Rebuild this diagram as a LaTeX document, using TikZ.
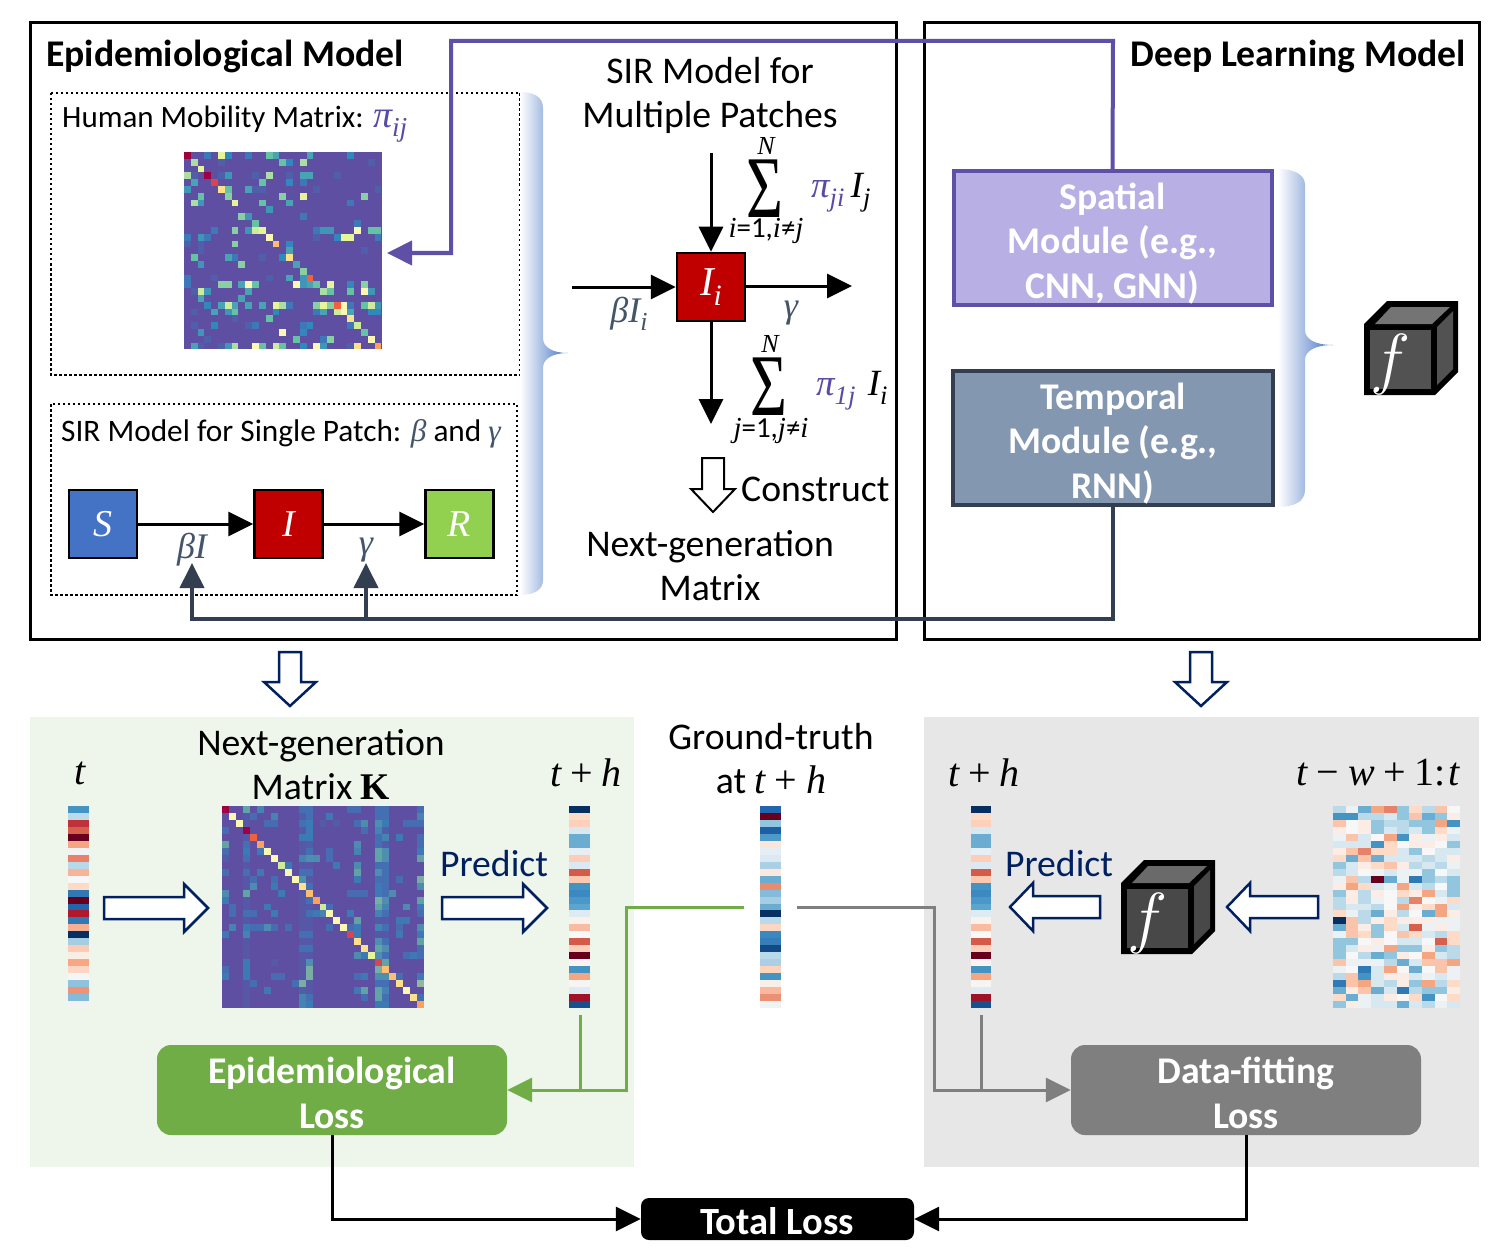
\RequirePackage{fix-cm}
\documentclass[tikz,border=0pt]{standalone}
\usepackage{graphicx}
\usepackage{fontspec}
\setmainfont{Carlito}
\newfontfamily\mathfnt{Liberation Serif}
\newcommand{\mi}[1]{{\mathfnt\itshape #1}}
\newcommand{\sbs}[1]{\raisebox{-.24em}{\scalebox{.72}{\mathfnt\itshape #1}}}
\newcommand{\ops}[1]{\hspace{.22em}{\mathfnt #1}\hspace{.22em}}
\usetikzlibrary{arrows.meta,shadings}
% colours
\definecolor{navy}{HTML}{002060}
\definecolor{purp}{HTML}{5F4FA6}
\definecolor{mathpurp}{HTML}{5B4AA5}
\definecolor{slate}{HTML}{333F50}
\definecolor{mathslate}{HTML}{44546A}
\definecolor{lossgreen}{HTML}{70AD47}
\definecolor{lossgray}{HTML}{7F7F7F}
\definecolor{panelgreen}{HTML}{EEF5EA}
\definecolor{panelgray}{HTML}{E7E7E7}
\definecolor{braceblue}{HTML}{4472C4}
\definecolor{boxred}{HTML}{C00000}
\definecolor{boxgreen}{HTML}{92D050}
\definecolor{spatialfill}{HTML}{B8B0E4}
\definecolor{temporalfill}{HTML}{8497B0}
\definecolor{cubeA}{HTML}{525252}
\definecolor{cubeAtop}{HTML}{747474}
\definecolor{cubeB}{HTML}{484848}
\definecolor{cubeBtop}{HTML}{6A6A6A}
\definecolor{hmbg}{HTML}{5E4FA2}
\definecolor{hmp}{HTML}{4F5FAA}
\definecolor{hmb}{HTML}{3F78B8}
\definecolor{hmc}{HTML}{3288BD}
\definecolor{hmd}{HTML}{3F96B7}
\definecolor{hme}{HTML}{4AA3B5}
\definecolor{hmf}{HTML}{66C2A5}
\definecolor{hmg}{HTML}{88CFA4}
\definecolor{hmh}{HTML}{ABDDA4}
\definecolor{hmi}{HTML}{CFEB9C}
\definecolor{hmj}{HTML}{E6F598}
\definecolor{hmk}{HTML}{FBF8B4}
\definecolor{hml}{HTML}{FEE08B}
\definecolor{hmm}{HTML}{FDBE6F}
\definecolor{hmn}{HTML}{FDA05B}
\definecolor{hmo}{HTML}{F0613F}
\definecolor{hmq}{HTML}{D9454F}
\definecolor{hmr}{HTML}{9E0142}
% red-blue palette
\definecolor{rbA}{HTML}{053061}
\definecolor{rbB}{HTML}{2F79B5}
\definecolor{rbC}{HTML}{4393C3}
\definecolor{rbD}{HTML}{6BACD1}
\definecolor{rbE}{HTML}{92C5DE}
\definecolor{rbF}{HTML}{BAD9E9}
\definecolor{rbG}{HTML}{D8E8F1}
\definecolor{rbH}{HTML}{ECF1F4}
\definecolor{rbI}{HTML}{F7F7F7}
\definecolor{rbJ}{HTML}{FBEDE5}
\definecolor{rbK}{HTML}{FDDBC7}
\definecolor{rbL}{HTML}{F9C4A9}
\definecolor{rbM}{HTML}{F4A582}
\definecolor{rbN}{HTML}{E58268}
\definecolor{rbO}{HTML}{D6604D}
\definecolor{rbP}{HTML}{67001F}
\tikzset{
  panel/.style={draw=black,line width=3pt,fill=none},
  dotbox/.style={draw=black,line width=2.5pt,dash pattern=on 2.5pt off 2.5pt},
  flowbox/.style={draw=black,line width=2.5pt,minimum width=68pt,minimum height=68pt,inner sep=0pt,text=white,font=\fontsize{38}{40}\selectfont},
  modbox/.style={line width=4pt,minimum width=318pt,minimum height=134pt,inner sep=0pt},
  modtext/.style={inner sep=0pt,text=white,align=center,font=\fontsize{37.7}{44.5}\selectfont\bfseries},
  lossbox/.style={rounded corners=14pt,minimum width=350pt,minimum height=90pt,inner sep=0pt},
  losstext/.style={inner sep=0pt,text=white,align=center,font=\fontsize{37.7}{45}\selectfont\bfseries},
  lbl/.style={inner sep=0pt,align=center,font=\fontsize{#1}{44}\selectfont},
  blbl/.style={inner sep=0pt,align=center,font=\fontsize{#1}{44.5}\selectfont\bfseries},
  blockarrow/.style={draw=navy,fill=white,line width=2.5pt,miter limit=10},
  bigtip/.style={-{Triangle[length=25pt,width=24pt]}},
  flow/.style={draw=black,line width=3pt,bigtip},
  purpline/.style={draw=purp,line width=4pt,-{Triangle[length=25pt,width=24pt,fill=purp]},line join=miter},
  slateline/.style={draw=slate,line width=4pt,line join=miter},
  greenline/.style={draw=lossgreen,line width=3pt},
  grayline/.style={draw=lossgray,line width=3pt},
  total/.style={draw=black,line width=3pt},
}
% horizontal block arrow: tail x, tip x, y, head base x
\newcommand{\hblock}[4]{\draw[blockarrow] (#1,#3-11) -- (#4,#3-11) -- (#4,#3-24) -- (#2,#3) -- (#4,#3+24) -- (#4,#3+11) -- (#1,#3+11) -- cycle;}
% vertical block arrow: x, tail y, tip y, head base y
\newcommand{\vblock}[4]{\draw[blockarrow] (#1-11,#2) -- (#1-11,#4) -- (#1-26,#4) -- (#1,#3) -- (#1+26,#4) -- (#1+11,#4) -- (#1+11,#2) -- cycle;}
% cube: x, y, face colour, top colour, name
\newcommand{\fcube}[5]{%
  \fill[black] (#1,#2+23) -- (#1+23,#2) -- (#1+94,#2) -- (#1+94,#2+71) -- (#1+71,#2+94) -- (#1,#2+94) -- cycle;
  \fill[#3] (#1+6,#2+29) rectangle (#1+67,#2+88);
  \fill[#4] (#1+11,#2+23) -- (#1+27,#2+6) -- (#1+86,#2+6) -- (#1+68,#2+23) -- cycle;
  \fill[#3] (#1+73,#2+26) -- (#1+89,#2+10) -- (#1+89,#2+68) -- (#1+73,#2+84) -- cycle;
  \node[text=white,inner sep=0pt,font=\fontsize{68}{68}\selectfont] (#5) at (#1+27,#2+63) {$f$};
}
% sparse heat map: x0,y0,cell,data
\newcommand{\heat}[4]{%
  \foreach \r/\cs in {#4} {%
    \foreach \c/\k in \cs {%
      \fill[hm\k] ({#1+\c*#3},{#2+\r*#3}) rectangle ({#1+(\c+1)*#3},{#2+(\r+1)*#3});
    }%
  }%
}
% stripe: x0,x1,list of 29 hex colours (a macro, or a list in double braces)
\newcommand{\stripe}[3]{%
  \foreach \hc [count=\i from 0] in #3 {%
    \edef\tmpdef{\noexpand\definecolor{cc}{HTML}{\hc}}\tmpdef
    \fill[cc] (#1,{806+\i*6.966}) rectangle (#2,{806+(\i+1)*6.966});
  }%
}
\newcommand{\predlist}{053061,FDDBC7,FDD0BC,D8E8F1,6BACD1,6BACD1,E8EFF4,FDCDB8,DCE8F2,D55A4A,FBC8B0,4393C3,3C88C0,4A97C9,5CA5CE,DEEBF3,F8F1EC,F9BBA1,F8F8F8,D55A4A,FCCFBA,67001F,F9F4F2,4393C3,F4A582,F7F5F3,DEEBF3,A11228,174F8F}
\newcommand{\bigsum}{\scalebox{.72}[1]{\fontsize{88}{88}\selectfont\mathfnt Σ}}
\begin{document}
\begin{tikzpicture}[x=1pt,y=-1pt]
\useasboundingbox (0,0) rectangle (1510,1260);
% panels
\fill[panelgreen] (30,717) rectangle (634,1167);
\fill[panelgray] (924,717) rectangle (1479,1167);
\draw[panel] (30,23) rectangle (896,639);
\draw[panel] (924,23) rectangle (1479,639);
\draw[dotbox] (51,93) rectangle (520,375);
\draw[dotbox] (51,404) rectangle (517,595);
% titles
\node[blbl=37.7,anchor=west] (epititle) at (46,56) {Epidemiological Model};
\node[blbl=37.7,anchor=east] (dltitle) at (1466,56) {Deep Learning Model};
\node[lbl=31,anchor=west] (mobtitle) at (62,124.5) {Human Mobility Matrix: {\fontsize{38}{40}\selectfont\textcolor{mathpurp}{\mi{π}\sbs{ij}}}};
\node[lbl=31.3,anchor=west] (sirtitle) at (61,434) {SIR Model for Single Patch: \textcolor{mathslate}{\mi{β}} and \textcolor{mathslate}{\mi{γ}}};
\node[lbl=37.7] (multititle) at (710,95) {SIR Model for\\Multiple Patches};
% mobility matrix
\fill[hmbg] (184,152) rectangle (382,349);
\heat{184}{152}{6.81}{%
0/{0/r,3/b,5/j,6/c,9/b,12/f,13/e,18/e,24/c},
1/{1/h,5/p,14/f,15/c,17/h,27/p},
2/{2/j},
3/{0/h,1/p,3/r,5/p,6/d,10/p,12/h,15/p,17/e,18/e,22/p},
4/{1/e,4/q,11/f,15/c,17/b},
5/{0/d,5/l,6/f,9/e,10/p,11/p,19/p,28/p},
6/{2/f,6/g,14/g,17/j,26/g},
7/{1/h,2/d,7/j,11/f,15/e,24/b},
8/{12/d},
9/{8/g,9/d,17/b},
10/{10/f,25/b},
11/{4/b,7/g,9/d,10/i,11/j,19/b,20/d,21/d,25/k,27/f,28/f},
12/{0/b,2/d,3/b,12/k,19/p,22/c,23/j,24/j,28/b},
13/{0/p,2/p,7/g,13/m,15/c},
14/{2/p,15/e,26/p},
15/{1/f,6/e,7/b,11/p,14/c,15/l},
16/{2/d,8/g,16/e},
17/{17/g},
18/{0/b,4/p,12/p,15/e,17/d,18/o},
19/{0/b,5/g,6/g,8/e,9/k,10/f,16/k,17/d,18/e,19/f,21/j,24/c,26/g},
20/{1/p,2/i,3/d,9/e,20/h,21/f,24/f,26/k,27/d},
21/{2/e,8/e},
22/{3/c,5/e,6/i,7/e,9/e,11/e,13/j,14/h,15/b,19/g,20/j,21/g,22/o,23/k,24/b,26/f,27/i,28/d},
23/{1/p,4/e,6/d,7/f,13/c,19/b,20/e,22/i,23/k,24/e,27/c,28/c},
24/{7/p,12/f,24/l},
25/{1/p,4/c,9/p,10/b,17/b,18/c,24/b,25/i},
26/{2/d,14/k,17/c,26/f},
27/{3/p,16/f,20/b,21/g,27/k},
28/{1/e,2/p,5/p,6/d,7/h,10/k,11/f,13/i,14/f,17/c,19/k,20/d,24/p,25/l,28/n}}
\coordinate (mobtip) at (387,253);
% brace left
\shade[left color=white,right color=braceblue]
  (520,92) .. controls (534,92) and (543,97) .. (543,108) -- (543,338) .. controls (543,347) and (552,353) .. (568,353) .. controls (552,353) and (543,359) .. (543,368) -- (543,580) .. controls (543,590) and (534,595) .. (520,595) -- cycle;
% brace right
\shade[left color=white,right color=braceblue]
  (1278,169) .. controls (1295,169) and (1305,175) .. (1305,185) -- (1305,330) .. controls (1305,339) and (1315,345) .. (1333,345) .. controls (1315,345) and (1305,351) .. (1305,360) -- (1305,490) .. controls (1305,501) and (1295,507) .. (1278,507) -- cycle;
% SIR flow
\node[flowbox,fill=braceblue] (S) at (103,524) {\mi{S}};
\node[flowbox,fill=boxred] (I) at (288.5,524) {\mi{I}};
\node[flowbox,fill=boxgreen] (R) at (459.5,524) {\mi{R}};
\draw[flow] (S) -- (I);
\draw[flow] (I) -- (R);
\node[lbl=36,text=mathslate] (betaI) at (192,550) {\mi{βI}};
\node[lbl=36,text=mathslate] (gam) at (366,550) {\mi{γ}};
% patch flow
\node[flowbox,fill=boxred,font=\fontsize{41}{42}\selectfont] (Ii) at (711,287) {\mi{I}\sbs{i}};
\coordinate (ctop) at (711,153);
\coordinate (cleft) at (572,287);
\coordinate (cright) at (852,286);
\coordinate (cbot) at (711,424);
\draw[flow] (ctop) -- (Ii.north);
\draw[flow] (cleft) -- (Ii.west);
\draw[flow] (Ii.east |- cright) -- (cright);
\draw[flow] (Ii.south) -- (cbot);
\node[lbl=36,text=mathslate] (betaIi) at (629,314) {\mi{βI}\sbs{i}};
\node[lbl=36,text=mathslate] (gamma2) at (791,313) {\mi{γ}};
\node[lbl=26] (n1) at (766,146) {\mi{N}};
\node[inner sep=0pt] (sum1) at (765,189) {\bigsum};
\node[lbl=29] (sub1) at (766,231) {\mi{i}=1,\mi{i}≠\mi{j}};
\node[lbl=37,anchor=west] (pi1) at (811,193) {\textcolor{mathpurp}{\mi{π}\sbs{ji}}\,\mi{I}\sbs{j}};
\node[lbl=26] (n2) at (770,344) {\mi{N}};
\node[inner sep=0pt] (sum2) at (769,387) {\bigsum};
\node[lbl=29] (sub2) at (771,431) {\mi{j}=1,\mi{j}≠\mi{i}};
\node[lbl=37,anchor=west] (pi2) at (816,391) {\textcolor{mathpurp}{\mi{π}\sbs{1j}}\,\,\mi{I}\sbs{i}};
% construct
\draw[draw=black,fill=white,line width=2pt] (702,458) -- (724,458) -- (724,489) -- (735,489) -- (713,512) -- (691,489) -- (702,489) -- cycle;
\node[lbl=37.7,anchor=west] (construct) at (741,489) {Construct};
\node[lbl=37.7] (nextgen1) at (710,566) {Next-generation\\Matrix};
% modules
\node[modbox,draw=purp,fill=spatialfill] (spatial) at (1112.5,238) {};
\node[modbox,draw=slate,fill=temporalfill,minimum width=320pt] (temporal) at (1113,438) {};
\node[modtext] (spatialtext) at (1112.5,243.5) {Spatial\\Module (e.g.,\\CNN, GNN)};
\node[modtext] (temporaltext) at (1113,443.5) {Temporal\\Module (e.g.,\\RNN)};
\fcube{1364}{301}{cubeA}{cubeAtop}{f1}
% cross connectors
\coordinate (pa) at (1113,41);
\coordinate (pb) at (451,41);
\coordinate (pc) at (451,253);
\draw[purpline] (spatial.north) -- (pa) -- (pb) -- (pc) -- (mobtip);
\coordinate (sa) at (1113,619);
\coordinate (sb) at (192,619);
\coordinate (sc) at (192,563);
\coordinate (sd) at (366,619);
\coordinate (se) at (366,563);
\draw[slateline,-{Triangle[length=25pt,width=24pt]}] (temporal.south) -- (sa) -- (sb) -- (sc);
\draw[slateline,-{Triangle[length=25pt,width=24pt]}] (sd) -- (se);
% down block arrows
\vblock{290}{652}{706}{682}
\vblock{1201}{652}{706}{682}
% lower labels
\node[lbl=37.7] (kt) at (321,765) {Next-generation\\Matrix {\mathfnt\bfseries K}};
\node[lbl=37.7] (gtt) at (771,759) {Ground-truth\\at {\fontsize{40}{40}\selectfont\mi{t}\ops{+}\mi{h}}};
\node[lbl=40] (lt) at (80,773) {\mi{t}};
\node[lbl=40] (lth) at (586,773) {\mi{t}\ops{+}\mi{h}};
\node[lbl=40] (rth) at (984,773) {\mi{t}\ops{+}\mi{h}};
\node[lbl=40] (rw) at (1378,773) {\mi{t}\ops{−}\mi{w}\ops{+}{\mathfnt 1:}\hspace{.05em}\mi{t}};
\node[lbl=37.7,text=navy] (pred1) at (494,864) {Predict};
\node[lbl=37.7,text=navy] (pred2) at (1059,864) {Predict};
% stripes
\stripe{68}{89}{{4393C3,BBDAEA,C0323A,D6604D,67001F,F4A582,F0F2F4,E8806A,B9D8E9,F7B498,F7F7F7,FDDBC7,2F79B5,67001F,2166AC,B2182B,2F79B5,F6AF92,053061,A6CEE3,FDCBB5,F9EDE4,F7A784,FDD7C3,F5F5F5,8FC2DD,EF9276,85BBDA,F2F2F2}}
\stripe{569}{590}{\predlist}
\stripe{760}{781}{{2166AC,67001F,92C5DE,1E5FA4,4D9AC8,FBE6DC,E6EEF5,DCE8F2,ABD0E6,FBE9E0,6BACD1,E98B6F,85BBDA,A6CEE3,6BACD1,053061,BAD9E9,FDD7C3,3B88C0,347FB9,134A85,BAD9E9,ABD0E6,FDD3BC,4393C3,F9EFE9,F8B99E,EB9072,EEF3F6}}
\stripe{971}{991}{\predlist}
% K matrix
\fill[hmbg] (222,806) rectangle (424,1008);
\foreach \c in {3,11,12,22,23} {\fill[hmp!55!hmbg] ({222+\c*6.966},806) rectangle ({222+(\c+1)*6.966},1008);}
\begin{scope}[fill opacity=.72]
\heat{222}{806}{6.966}{%
0/{3/f,5/d,11/b,12/b,18/b,19/b,22/b,23/b,28/b},
1/{4/b,7/d,11/p,12/b,15/c,22/b,23/b,28/d},
2/{6/b,7/b,11/b,12/c,14/p,16/p,19/b,20/e,22/e,23/c,26/b,27/b,28/b},
3/{0/b,12/c,20/b,22/d,23/p},
4/{11/c,12/c,22/b,23/d,25/c,28/b},
5/{0/f,3/b,12/p,19/e,22/b,23/p,28/b},
6/{0/b,3/c,5/c,12/b,15/b,19/d,22/f,23/e,28/c},
7/{0/p,3/b,11/d,12/e,13/e,15/b,22/f,23/e,28/f},
8/{9/c,16/c,19/e,22/b,23/b},
9/{0/b,3/b,5/c,11/b,12/b,19/f,22/e,23/b},
10/{4/b,7/b,11/e,19/c,22/b,23/b,25/b,28/g},
11/{4/e,7/c,12/b,22/c,23/b,28/e},
12/{0/e,3/f,8/c,18/b,19/b,20/b,22/c,23/b,24/e},
13/{0/c,12/b,22/g,23/e,28/f},
14/{1/b,6/c,15/b,22/f,23/d,26/e,28/c},
15/{1/b,3/b,4/b,7/c,12/b,13/c,14/d,18/c,22/d,23/b,28/b},
16/{19/f,25/c,26/c},
17/{1/d,3/c,4/b,5/b,6/e,7/b,9/b,15/b,18/b,19/c,22/d,23/b,25/b,28/e},
18/{0/c,3/d,11/b,12/b,19/c,25/c,28/c},
19/{22/e,23/b,28/f},
20/{11/b,12/b,22/f,23/e,28/b},
21/{19/e,20/c,22/e,23/b,26/b,27/c,28/b},
22/{3/c,7/p,12/e,23/f},
23/{0/b,3/c,12/g,22/g},
24/{0/c,3/c,7/b,8/b,12/g,19/b,20/c,22/e,23/e,25/b,28/c},
25/{4/b,10/b,11/g,22/b,23/b,28/h},
26/{6/c,11/p,19/c,20/f,22/f,23/d},
27/{11/d,12/b,20/b,22/f,23/b,28/b},
28/{11/d,12/c,22/c,23/c}}
\end{scope}
\heat{222}{806}{6.966}{0/{0/r},1/{1/k},2/{2/k},3/{3/r},4/{4/o},5/{5/n},6/{6/k},7/{7/k},8/{8/i},9/{9/k},10/{10/k},11/{11/l},12/{12/m},13/{13/n},14/{14/i},15/{15/k},16/{16/k},17/{17/k},18/{18/q},19/{19/l},20/{20/l},21/{21/j},22/{22/q},23/{23/m},24/{24/m},25/{25/l},26/{26/k},27/{27/l},28/{28/n}}
% input matrix
\foreach \rowcells [count=\j from 0] in {%
{F,H,D,M,N,E,K,F,L,I},{C,C,F,F,G,E,L,D,E,J},{L,I,J,E,F,F,E,E,M,C},{J,I,J,E,G,F,G,E,K,H},{H,L,G,I,M,C,J,H,J,G},
{G,G,G,C,K,I,J,J,I,E},{J,L,N,K,K,G,E,I,G,G},{K,D,L,D,G,G,G,F,G,J},{E,G,J,K,L,J,F,G,F,H},{F,G,I,H,G,H,H,E,I,G},
{H,L,F,P,D,H,B,E,F,E},{J,M,K,G,H,M,G,F,I,E},{E,J,F,J,I,K,J,M,G,E},{F,J,F,H,I,F,N,I,H,K},{F,G,G,F,I,M,J,K,M,G},
{K,H,F,D,J,F,I,D,M,J},{A,L,F,J,K,J,J,J,H,H},{D,L,J,E,K,G,O,H,J,H},{H,L,K,E,I,L,K,G,F,K},{E,E,I,J,I,G,G,I,O,K},
{E,G,J,H,M,E,E,J,E,F},{E,I,F,D,E,J,I,M,G,F},{L,H,H,H,F,D,G,L,L,M},{H,I,B,G,M,I,D,I,L,H},{F,L,C,G,J,J,G,H,G,H},
{B,L,M,G,F,J,E,M,F,K},{D,J,L,D,G,B,F,E,E,J},{K,D,H,G,J,I,K,C,I,K},{E,J,H,G,G,D,G,F,H,G}} {%
  \foreach \cellc [count=\ii from 0] in \rowcells {%
    \fill[rb\cellc] ({1333+\ii*12.7},{806+\j*6.966}) rectangle ({1333+(\ii+1)*12.7},{806+(\j+1)*6.966});
  }%
}
% block arrows, cube
\hblock{104}{208}{908}{184}
\hblock{442}{547}{908}{523}
\hblock{1100}{1010}{907}{1033}
\hblock{1318}{1227}{907}{1250}
\fcube{1121}{860}{cubeB}{cubeBtop}{f2}
% losses
\node[lossbox,fill=lossgreen] (epi) at (332,1090) {};
\node[lossbox,fill=lossgray] (fit) at (1246,1090) {};
\node[losstext] (epitext) at (332,1092.5) {Epidemiological\\Loss};
\node[losstext] (fittext) at (1246,1092.5) {Data-fitting\\Loss};
\node[rounded corners=8pt,fill=black,minimum width=273pt,minimum height=42pt,inner sep=0pt] (tot) at (777.5,1219) {};
\node[inner sep=0pt,text=white,font=\fontsize{38.5}{40}\selectfont\bfseries] (tottext) at (777,1221.5) {Total Loss};
\coordinate (ga) at (744,907);
\coordinate (gb) at (626,907);
\coordinate (gc) at (626,1090);
\coordinate (gd) at (580,1015);
\coordinate (ge) at (580,1090);
\draw[greenline,-{Triangle[length=25pt,width=24pt]}] (ga) -- (gb) -- (gc) -- (epi.east);
\draw[greenline] (gd) -- (ge);
\coordinate (ha) at (797,907);
\coordinate (hb) at (934,907);
\coordinate (hc) at (934,1090);
\coordinate (hd) at (981,1015);
\coordinate (he) at (981,1090);
\draw[grayline,-{Triangle[length=25pt,width=24pt]}] (ha) -- (hb) -- (hc) -- (fit.west);
\draw[grayline] (hd) -- (he);
\draw[total,bigtip] (epi.south) |- (tot.west);
\draw[total,bigtip] (fit.south) |- (tot.east);
\end{tikzpicture}
\end{document}
